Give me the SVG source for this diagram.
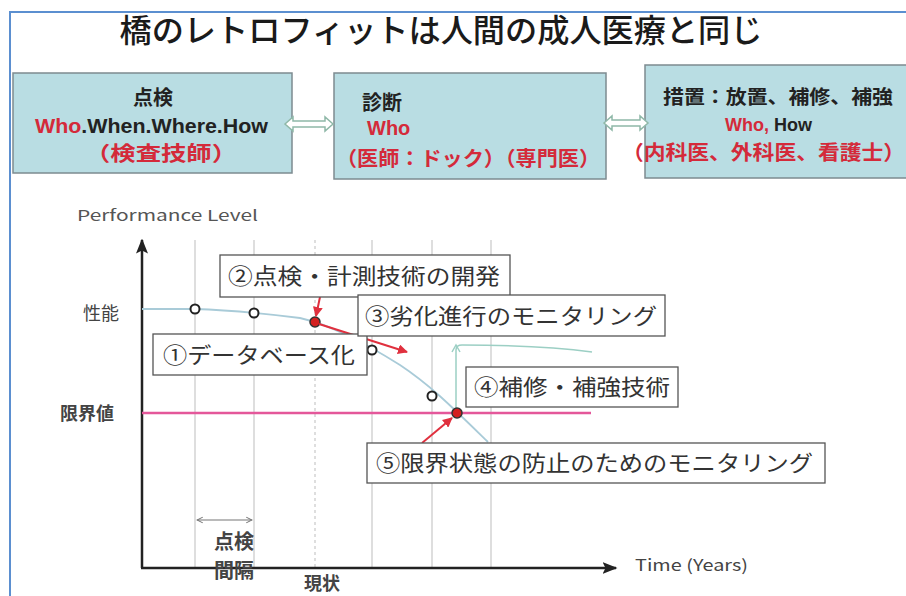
<svg xmlns="http://www.w3.org/2000/svg" width="906" height="596" viewBox="0 0 906 596">
<defs>
<style>
.jp{font-family:"Noto Sans CJK JP","Noto Sans",sans-serif;}
.en{font-family:"Liberation Sans",Arial,sans-serif;}
.top{fill:#b9dde3;stroke:#7d8b90;stroke-width:1.5;}
.lbl{fill:#fff;stroke:#555;stroke-width:1.3;}
.lt{font-family:"Noto Sans CJK JP",sans-serif;font-size:22px;fill:#333;}
.grid{stroke:#c8c8c8;stroke-width:1.2;}
.red{fill:#d42a3a;}
.blk{fill:#222;}
.dbl{fill:#fff;stroke:#8fb8a8;stroke-width:1.5;}
.pt{fill:#fff;stroke:#222;stroke-width:2;}
.ptr{fill:#d42020;stroke:#333;stroke-width:1.5;}
.ra{stroke:#e0303e;stroke-width:2;fill:none;marker-end:url(#ah);}
</style>
<marker id="ah" viewBox="0 0 10 10" refX="9" refY="5" markerWidth="5" markerHeight="5" orient="auto"><path d="M0,0 L10,5 L0,10 z" fill="#e0303e"/></marker>
<marker id="ak" viewBox="0 0 10 10" refX="9" refY="5" markerWidth="6" markerHeight="6" orient="auto"><path d="M0,1 L10,5 L0,9 L2,5 z" fill="#222"/></marker>
<marker id="ag" viewBox="0 0 10 10" refX="9" refY="5" markerWidth="6" markerHeight="6" orient="auto-start-reverse"><path d="M1,1 L9,5 L1,9" fill="none" stroke="#777" stroke-width="1.5"/></marker>
</defs>
<rect width="906" height="596" fill="#fff"/>
<path d="M10,596 V12 H906" fill="none" stroke="#5b8fd0" stroke-width="2"/>
<text class="jp" x="441" y="42" font-size="32" font-weight="500" text-anchor="middle" fill="#1a1a1a" textLength="643" lengthAdjust="spacingAndGlyphs">橋のレトロフィットは人間の成人医療と同じ</text>

<g id="box-inspection">
<rect class="top" x="13" y="73" width="279" height="100"/>
<text class="jp" x="153" y="105" font-size="20" font-weight="bold" text-anchor="middle" fill="#222">点検</text>
<text class="en" x="35" y="133" font-size="20" font-weight="bold" textLength="233" lengthAdjust="spacingAndGlyphs"><tspan class="red">Who</tspan><tspan class="blk">.When.Where.How</tspan></text>
<text class="jp red" x="161" y="161" font-size="20" font-weight="bold" text-anchor="middle" textLength="152" lengthAdjust="spacingAndGlyphs">（検査技師）</text>
</g>

<g id="box-diagnosis">
<rect class="top" x="334" y="73" width="272" height="106"/>
<text class="jp" x="362" y="110" font-size="20" font-weight="bold" fill="#222">診断</text>
<text class="en red" x="367" y="135" font-size="20" font-weight="bold">Who</text>
<text class="jp red" x="336" y="166" font-size="20" font-weight="bold" textLength="264" lengthAdjust="spacingAndGlyphs">（医師：ドック）（専門医）</text>
</g>

<g id="box-measures">
<rect class="top" x="645" y="65" width="270" height="113"/>
<text class="jp" x="778" y="104" font-size="19" font-weight="bold" text-anchor="middle" fill="#222" textLength="230" lengthAdjust="spacingAndGlyphs">措置：放置、補修、補強</text>
<text class="en" x="725" y="131" font-size="18" font-weight="bold"><tspan class="red">Who,</tspan><tspan class="blk"> How</tspan></text>
<text class="jp red" x="622" y="160" font-size="20" font-weight="bold" textLength="283" lengthAdjust="spacingAndGlyphs">（内科医、外科医、看護士）</text>
</g>

<g id="connectors">
<polygon class="dbl" points="285,124 293,117 293,121 325,121 325,117 333,124 325,131 325,127 293,127 293,131"/>
<polygon class="dbl" points="604,123 612,116 612,120 640,120 640,116 648,123 640,130 640,126 612,126 612,130"/>
</g>

<g id="chart">
<text class="jp" x="77" y="221" font-size="15" fill="#555" textLength="181" lengthAdjust="spacingAndGlyphs">Performance   Level</text>
<g class="grid">
<line x1="195" y1="240" x2="195" y2="568"/>
<line x1="254" y1="240" x2="254" y2="568"/>
<line x1="315" y1="240" x2="315" y2="568" stroke-dasharray="3,3"/>
<line x1="372" y1="240" x2="372" y2="568"/>
<line x1="432" y1="240" x2="432" y2="568"/>
<line x1="491" y1="240" x2="491" y2="568"/>
</g>
<line x1="142" y1="568" x2="142" y2="240" stroke="#222" stroke-width="2.5" marker-end="url(#ak)"/>
<line x1="141" y1="568" x2="616" y2="568" stroke="#222" stroke-width="2.5" marker-end="url(#ak)"/>
<text class="jp" x="83" y="320" font-size="18" fill="#444">性能</text>
<text class="jp" x="60" y="420" font-size="18" fill="#444" font-weight="bold">限界値</text>
<line x1="142" y1="413" x2="591" y2="413" stroke="#e4579a" stroke-width="2.5"/>
<path d="M142,309 L195,309 C230,310 260,313 300,318 C330,325 360,340 400,365 C430,385 450,405 488,442" fill="none" stroke="#a9cbd8" stroke-width="1.8"/>
<path d="M456,412 L456,350 Q456,345 462,345 Q540,345 592,352" fill="none" stroke="#9ccfc4" stroke-width="1.5"/>
<path d="M452,352 L456,345 L460,352" fill="none" stroke="#9ccfc4" stroke-width="1.5"/>
<circle class="pt" cx="195" cy="309" r="4.5"/>
<circle class="pt" cx="254" cy="313" r="4.5"/>
<circle class="ptr" cx="315" cy="322" r="5"/>
<circle class="pt" cx="372" cy="350" r="4.5"/>
<circle class="pt" cx="432" cy="396" r="4.5"/>
<circle class="ptr" cx="457" cy="413" r="5"/>
<line class="ra" x1="319" y1="324" x2="407" y2="352"/>
<line class="ra" x1="320" y1="297" x2="316" y2="316"/>
<line class="ra" x1="422" y1="443" x2="452" y2="418"/>
<line x1="197" y1="520" x2="252" y2="520" stroke="#777" stroke-width="1.2" marker-start="url(#ag)" marker-end="url(#ag)"/>
<text class="jp" x="234" y="549" font-size="20" fill="#444" text-anchor="middle" font-weight="bold">点検</text>
<text class="jp" x="234" y="578" font-size="20" fill="#444" text-anchor="middle" font-weight="bold">間隔</text>
<text class="jp" x="322" y="590" font-size="18" fill="#444" text-anchor="middle" font-weight="bold">現状</text>
<text class="jp" x="635" y="571" font-size="16" fill="#444" textLength="113" lengthAdjust="spacingAndGlyphs">Time (Years)</text>
</g>

<g id="label-1">
<rect class="lbl" x="153" y="334" width="214" height="41"/>
<text class="lt" x="163" y="363" textLength="192" lengthAdjust="spacingAndGlyphs">①データベース化</text>
</g>
<g id="label-2">
<rect class="lbl" x="220" y="255" width="290" height="42"/>
<text class="lt" x="228" y="284" textLength="272" lengthAdjust="spacingAndGlyphs">②点検・計測技術の開発</text>
</g>
<g id="label-3">
<rect class="lbl" x="358" y="295" width="307" height="41"/>
<text class="lt" x="365" y="324" textLength="292" lengthAdjust="spacingAndGlyphs">③劣化進行のモニタリング</text>
</g>
<g id="label-4">
<rect class="lbl" x="466" y="367" width="212" height="40"/>
<text class="lt" x="474" y="395" textLength="196" lengthAdjust="spacingAndGlyphs">④補修・補強技術</text>
</g>
<g id="label-5">
<rect class="lbl" x="367" y="443" width="458" height="40"/>
<text class="lt" x="376" y="471" textLength="437" lengthAdjust="spacingAndGlyphs">⑤限界状態の防止のためのモニタリング</text>
</g>
</svg>
